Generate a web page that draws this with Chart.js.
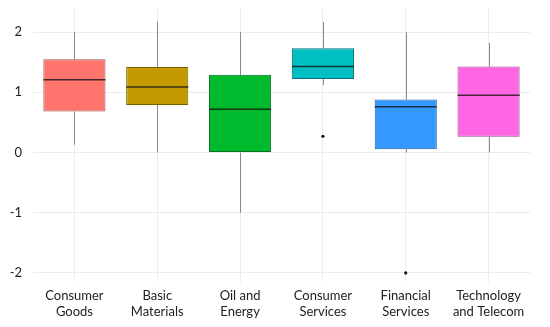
<!doctype html>
<html>
  <head>
    <script src="https://cdn.jsdelivr.net/npm/chart.js@4"></script>
    <style>
      html, body { margin: 0; padding: 0; background: #fff; }
      #wrap { width: 550px; height: 327px; }
    </style>
  </head>
  <body>
    <div id="wrap"><canvas id="canvas"></canvas></div>
    <script>
      const sectors = [['Consumer', 'Goods'], ['Basic', 'Materials'], ['Oil and', 'Energy'],
        ['Consumer', 'Services'], ['Financial', 'Services'], ['Technology', 'and Telecom']];
      const whiskerLow = [0.13, 0.0, -1.0, 1.12, 0.0, 0.0];
      const q1 = [0.68, 0.79, 0.0, 1.22, 0.055, 0.26];
      const median = [1.21, 1.09, 0.72, 1.43, 0.76, 0.95];
      const q3 = [1.55, 1.42, 1.29, 1.73, 0.88, 1.43];
      const whiskerHigh = [2.0, 2.17, 2.0, 2.17, 2.0, 1.82];
      const outliers = [null, null, null, 0.27, -2.0, null];
      const yTicks = [-2, -1, 0, 1, 2];

      const fills = ['#FF756E', '#C49A00', '#00BA2E', '#00BFC2', '#3399FF', '#FF66E3'];
      const borders = ['#995250', '#756000', '#0C7024', '#0A7475', '#275D9C', '#9C4590'];

      const boxExtras = {
        id: 'boxExtras',
        beforeDatasetsDraw(chart) {
          const { ctx, scales: { y } } = chart;
          const meta = chart.getDatasetMeta(0);
          ctx.save();
          ctx.strokeStyle = '#8a8a8a';
          ctx.lineWidth = 1;
          meta.data.forEach((bar, i) => {
            const px = Math.round(bar.x) + 0.5;
            ctx.beginPath();
            ctx.moveTo(px, y.getPixelForValue(whiskerHigh[i]));
            ctx.lineTo(px, y.getPixelForValue(q3[i]));
            ctx.moveTo(px, y.getPixelForValue(q1[i]));
            ctx.lineTo(px, y.getPixelForValue(whiskerLow[i]));
            ctx.stroke();
          });
          ctx.restore();
        },
        afterDatasetsDraw(chart) {
          const { ctx, scales: { y } } = chart;
          const meta = chart.getDatasetMeta(0);
          ctx.save();
          ctx.strokeStyle = 'rgba(20,20,20,0.8)';
          ctx.lineWidth = 1.5;
          meta.data.forEach((bar, i) => {
            const py = y.getPixelForValue(median[i]);
            ctx.beginPath();
            ctx.moveTo(bar.x - bar.width / 2, py);
            ctx.lineTo(bar.x + bar.width / 2, py);
            ctx.stroke();
          });
          ctx.restore();
        }
      };

      new Chart(document.getElementById('canvas'), {
        type: 'bar',
        data: {
          labels: sectors,
          datasets: [
            {
              data: q1.map((v, i) => [v, q3[i]]),
              backgroundColor: fills,
              borderColor: borders,
              borderWidth: 1,
              borderSkipped: false,
              barPercentage: 0.75,
              categoryPercentage: 1,
              order: 2
            },
            {
              type: 'line',
              data: outliers,
              showLine: false,
              pointRadius: 1.6,
              pointBackgroundColor: '#111',
              pointBorderWidth: 0,
              order: 1
            }
          ]
        },
        options: {
          responsive: true,
          maintainAspectRatio: false,
          animation: false,
          layout: { padding: { top: 8, right: 20, left: 0, bottom: 0 } },
          plugins: { legend: { display: false }, tooltip: { enabled: false } },
          scales: {
            x: {
              grid: { color: '#ececec', offset: false, drawTicks: false },
              border: { display: false },
              ticks: { color: '#222', font: { family: 'Lato', size: 13 }, padding: 6, maxRotation: 0 },
              afterFit(scale) { scale.height = 45; scale.paddingTop = 0; }
            },
            y: {
              min: -2.15,
              max: 2.4,
              afterBuildTicks(scale) { scale.ticks = yTicks.map((v) => ({ value: v })); },
              grid: { color: '#ececec', drawTicks: false },
              border: { display: false },
              ticks: { color: '#222', font: { family: 'Lato', size: 13 }, padding: 11 },
              afterFit(scale) { scale.width = 33; scale.paddingTop = 0; scale.paddingBottom = 0; }
            }
          }
        },
        plugins: [boxExtras]
      });
    </script>
  </body>
</html>
